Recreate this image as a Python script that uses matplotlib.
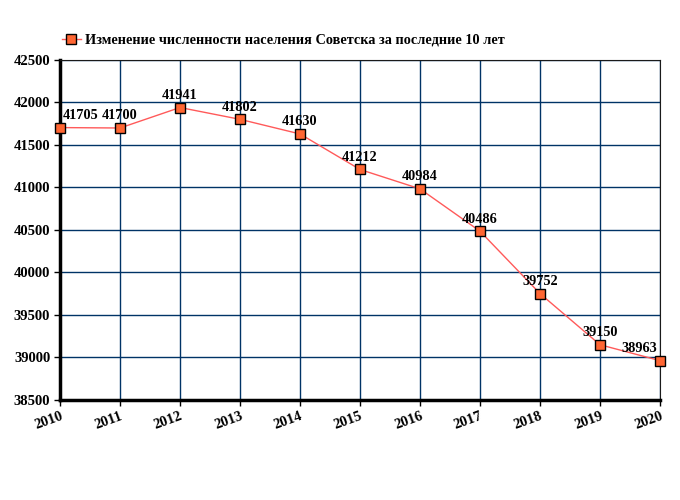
import matplotlib
matplotlib.use("Agg")
import matplotlib.pyplot as plt
from matplotlib.lines import Line2D

# Данные
years = [2010, 2011, 2012, 2013, 2014, 2015, 2016, 2017, 2018, 2019, 2020]
population = [41705, 41700, 41941, 41802, 41630, 41212, 40984, 40486, 39752, 39150, 38963]
y_ticks = [38500, 39000, 39500, 40000, 40500, 41000, 41500, 42000, 42500]
title = "Изменение численности населения Советска за последние 10 лет"

plt.rcParams["font.family"] = ["Liberation Serif", "DejaVu Serif"]
plt.rcParams["font.weight"] = "bold"

fig = plt.figure(figsize=(6.8, 5), dpi=100)
ax = fig.add_axes([60 / 680, 100 / 500, 600 / 680, 340 / 500])

ax.plot(years, population, color="#ff5a5a", linewidth=1, marker="s",
        markersize=7, markerfacecolor="#ff6633", markeredgecolor="black",
        markeredgewidth=1, zorder=3, clip_on=False)

for i, (x, y) in enumerate(zip(years, population)):
    ha = "center"
    dx = 0
    if i == 0:
        ha = "left"
        dx = 2
    elif i == len(years) - 1:
        ha = "right"
        dx = -2
    ax.annotate(str(y), (x, y), xytext=(dx, 4), textcoords="offset points",
                ha=ha, va="bottom", fontsize=10.3, fontweight="bold", zorder=4)

ax.set_xlim(2010, 2020)
ax.set_ylim(38500, 42500)
ax.set_xticks(years)
ax.set_yticks(y_ticks)
ax.set_xticklabels([str(y) for y in years], rotation=20, ha="right",
                   rotation_mode="anchor", fontsize=10.5, fontweight="bold")
ax.set_yticklabels([str(v) for v in y_ticks], fontsize=10.5, fontweight="bold")
ax.tick_params(axis="both", length=4, width=1, color="black", pad=3)

ax.grid(True, color="#003366", linewidth=1)
ax.set_axisbelow(True)
ax.spines["left"].set_linewidth(2.5)
ax.spines["bottom"].set_linewidth(2.5)
ax.spines["top"].set_color("#1a1a1a")
ax.spines["right"].set_color("#1a1a1a")

handle = Line2D([], [], color="#ff5a5a", linewidth=1, marker="s", markersize=7,
                markerfacecolor="#ff6633", markeredgecolor="black")
fig.legend([handle], [title], loc="center left", bbox_to_anchor=(62 / 680, 1 - 40 / 500),
           frameon=False, prop={"size": 10.3, "weight": "bold"}, handlelength=1.3,
           handletextpad=0.3, borderpad=0, borderaxespad=0)

fig.savefig("out.png", dpi=100)
